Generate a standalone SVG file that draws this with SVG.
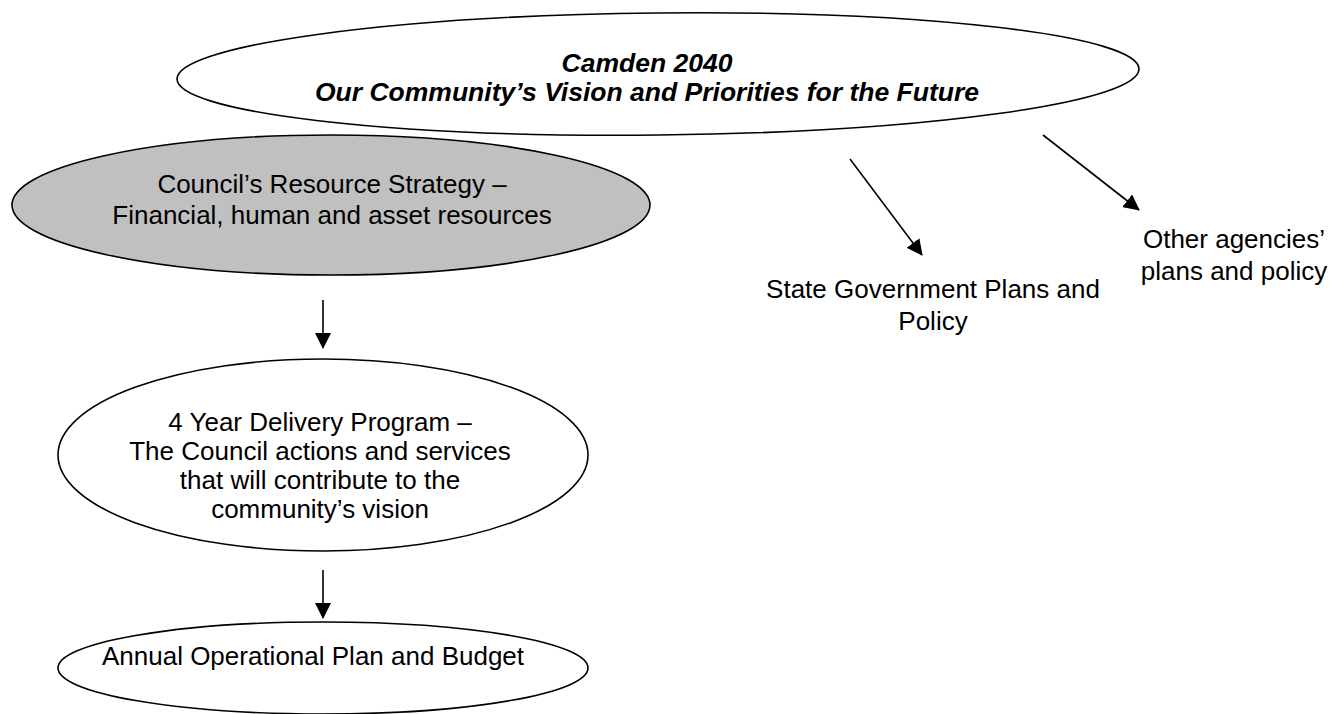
<svg xmlns="http://www.w3.org/2000/svg" width="1334" height="714" viewBox="0 0 1334 714">
  <defs>
    <marker id="head" viewBox="0 0 16 16" refX="15" refY="8" markerWidth="16" markerHeight="16" markerUnits="userSpaceOnUse" orient="auto">
      <path d="M0,0 L16,8 L0,16 Z" fill="#000"/>
    </marker>
  </defs>
  <style>
    .shape { stroke: #000; stroke-width: 1.6; }
    .plain { fill: #fff; }
    .shaded { fill: #c0c0c0; }
    .label { font-family: "Liberation Sans", Arial, sans-serif; font-size: 26px; fill: #000; text-anchor: middle; }
    .title { font-weight: bold; font-style: italic; font-size: 26.5px; }
    .link { stroke: #000; stroke-width: 1.6; fill: none; marker-end: url(#head); }
  </style>
  <rect width="1334" height="714" fill="#fff"/>

  <!-- community vision -->
  <g id="vision">
    <ellipse class="shape plain" cx="658" cy="74" rx="481" ry="61" transform="rotate(-0.6 658 74)"/>
    <text class="label title" x="647" y="72">Camden 2040</text>
    <text class="label title" x="647" y="101">Our Community’s Vision and Priorities for the Future</text>
  </g>

  <!-- resource strategy -->
  <g id="resource-strategy">
    <ellipse class="shape shaded" cx="331" cy="205" rx="319" ry="70"/>
    <text class="label" x="332" y="193">Council’s Resource Strategy –</text>
    <text class="label" x="332" y="224">Financial, human and asset resources</text>
  </g>

  <!-- delivery program -->
  <g id="delivery-program">
    <ellipse class="shape plain" cx="323" cy="455" rx="265" ry="96"/>
    <text class="label" x="320" y="431">4 Year Delivery Program –</text>
    <text class="label" x="320" y="460">The Council actions and services</text>
    <text class="label" x="320" y="489">that will contribute to the</text>
    <text class="label" x="320" y="518">community’s vision</text>
  </g>

  <!-- operational plan -->
  <g id="operational-plan">
    <ellipse class="shape plain" cx="323" cy="668" rx="265" ry="46"/>
    <text class="label" x="313" y="665">Annual Operational Plan and Budget</text>
  </g>

  <!-- external plans -->
  <g id="state-plans">
    <text class="label" x="933" y="298">State Government Plans and</text>
    <text class="label" x="933" y="330">Policy</text>
  </g>
  <g id="agency-plans">
    <text class="label" x="1234" y="248">Other agencies’</text>
    <text class="label" x="1234" y="280">plans and policy</text>
  </g>

  <!-- connectors -->
  <g id="connectors">
    <line class="link" x1="323" y1="300" x2="323" y2="348"/>
    <line class="link" x1="323" y1="570" x2="323" y2="618"/>
    <line class="link" x1="850" y1="159" x2="922" y2="255"/>
    <line class="link" x1="1043" y1="135" x2="1139" y2="210"/>
  </g>
</svg>
